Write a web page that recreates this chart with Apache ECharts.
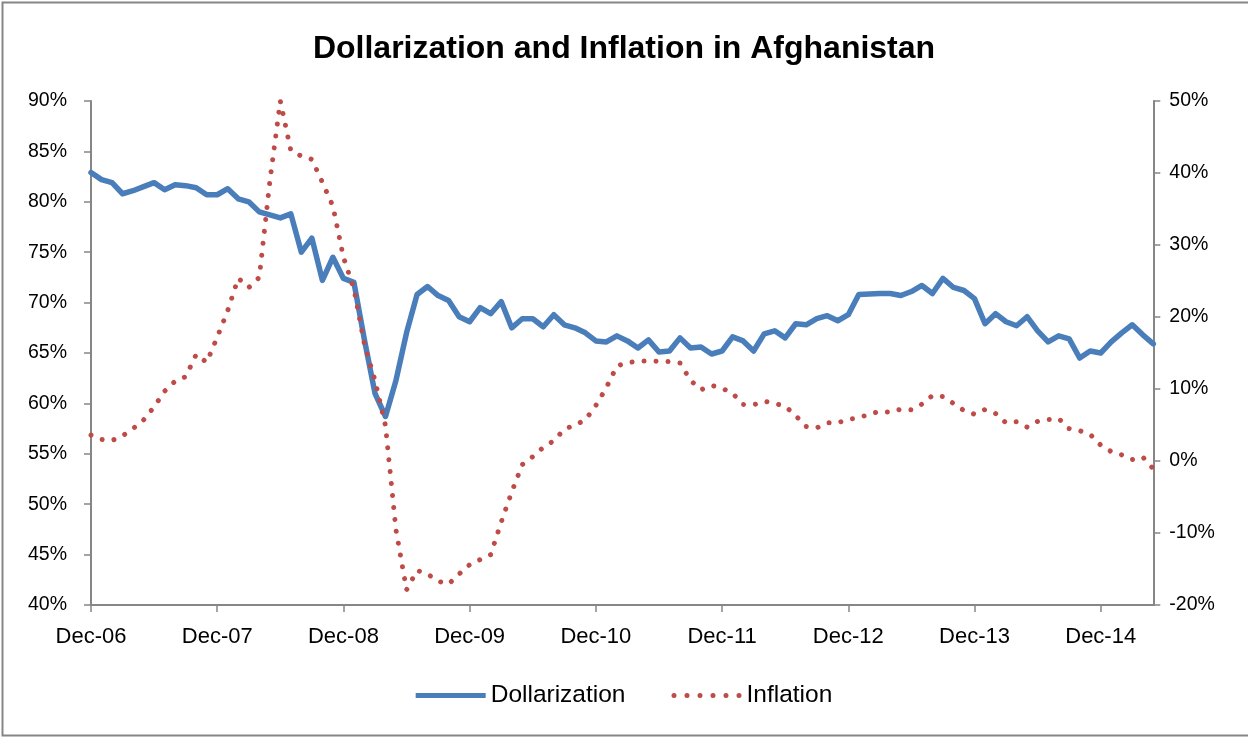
<!DOCTYPE html>
<html>
<head>
<meta charset="utf-8">
<script src="https://cdn.jsdelivr.net/npm/echarts@6/dist/echarts.min.js"></script>
<style>
html,body{margin:0;padding:0;background:#fff;}
#chart{width:1248px;height:737px;}
</style>
</head>
<body>
<div id="chart"></div>
<script>
var months = [
 'Dec-06','Jan-07','Feb-07','Mar-07','Apr-07','May-07','Jun-07','Jul-07','Aug-07','Sep-07','Oct-07','Nov-07',
 'Dec-07','Jan-08','Feb-08','Mar-08','Apr-08','May-08','Jun-08','Jul-08','Aug-08','Sep-08','Oct-08','Nov-08',
 'Dec-08','Jan-09','Feb-09','Mar-09','Apr-09','May-09','Jun-09','Jul-09','Aug-09','Sep-09','Oct-09','Nov-09',
 'Dec-09','Jan-10','Feb-10','Mar-10','Apr-10','May-10','Jun-10','Jul-10','Aug-10','Sep-10','Oct-10','Nov-10',
 'Dec-10','Jan-11','Feb-11','Mar-11','Apr-11','May-11','Jun-11','Jul-11','Aug-11','Sep-11','Oct-11','Nov-11',
 'Dec-11','Jan-12','Feb-12','Mar-12','Apr-12','May-12','Jun-12','Jul-12','Aug-12','Sep-12','Oct-12','Nov-12',
 'Dec-12','Jan-13','Feb-13','Mar-13','Apr-13','May-13','Jun-13','Jul-13','Aug-13','Sep-13','Oct-13','Nov-13',
 'Dec-13','Jan-14','Feb-14','Mar-14','Apr-14','May-14','Jun-14','Jul-14','Aug-14','Sep-14','Oct-14','Nov-14',
 'Dec-14','Jan-15','Feb-15','Mar-15','Apr-15','May-15'
];

var dollarization = [
 82.9,82.2,81.9,80.8,81.1,81.5,81.9,81.2,81.7,81.6,81.4,80.7,
 80.7,81.3,80.3,80.0,79.0,78.7,78.4,78.8,75.0,76.4,72.2,74.5,
 72.4,72.0,66.3,61.0,58.7,62.3,67.0,70.8,71.6,70.7,70.2,68.6,
 68.1,69.5,68.9,70.1,67.5,68.4,68.4,67.6,68.8,67.8,67.5,67.0,
 66.2,66.1,66.7,66.2,65.5,66.3,65.1,65.2,66.5,65.5,65.6,64.9,
 65.2,66.6,66.2,65.2,66.9,67.2,66.5,67.9,67.8,68.4,68.7,68.2,
 68.8,70.8,70.85,70.9,70.9,70.7,71.1,71.7,70.9,72.4,71.5,71.2,
 70.4,67.9,68.9,68.1,67.7,68.6,67.2,66.1,66.7,66.4,64.5,65.2,
 65.0,66.1,67.0,67.8,66.8,65.9
];

var inflation = [
 3.6,3.0,2.85,3.5,4.5,5.7,7.5,9.7,11.1,11.7,14.8,13.7,
 17.2,20.9,25.4,24.1,25.5,38.8,50.0,43.1,42.35,41.9,38.7,35.4,
 28.3,23.9,16.2,11.2,4.9,-9.6,-17.9,-15.2,-15.7,-16.7,-17.1,-15.7,
 -14.4,-13.7,-13.0,-8.5,-4.3,-0.5,0.6,1.9,2.8,4.4,5.0,5.7,
 7.7,10.2,13.2,13.65,13.85,13.9,13.85,13.8,13.6,11.2,9.9,10.5,
 10.1,9.4,7.85,7.8,8.3,8.0,7.6,6.3,4.8,4.6,5.3,5.3,
 5.8,6.0,6.5,6.9,6.75,7.2,7.1,7.9,9.1,8.95,8.0,7.0,
 6.5,7.15,6.6,5.3,5.45,4.7,5.5,5.75,5.9,4.5,4.2,3.7,
 2.2,1.3,0.85,0.2,0.55,-1.1
];

var leftTicks = {min: 40, max: 90, interval: 5};
var rightTicks = {min: -20, max: 50, interval: 10};

var axisGray = '#868686';
var blue = '#4A7EBB';
var red = '#BE4B48';
var font = 'Liberation Sans, Arial, sans-serif';

// legend icon: a row of round dots
function dotRowPath(n, r, gap) {
  var p = '';
  for (var k = 0; k < n; k++) {
    var cx = r + k * gap;
    p += 'M' + (cx - r) + ',' + r + 'a' + r + ',' + r + ' 0 1,0 ' + (2 * r) + ',0a' + r + ',' + r + ' 0 1,0 ' + (-2 * r) + ',0Z';
  }
  return 'path://' + p;
}

var chart = echarts.init(document.getElementById('chart'), null, {renderer: 'canvas'});
chart.setOption({
  backgroundColor: '#ffffff',
  animation: false,
  title: {
    text: 'Dollarization and Inflation in Afghanistan',
    left: 'center',
    top: 28,
    textStyle: {fontFamily: font, fontSize: 32, fontWeight: 'bold', color: '#000'}
  },
  legend: {
    bottom: 24,
    left: 'center',
    itemWidth: 70,
    itemHeight: 5,
    itemGap: 46,
    textStyle: {fontFamily: font, fontSize: 24.5, color: '#000'},
    data: [
      {name: 'Dollarization', icon: 'rect', itemStyle: {color: blue}},
      {name: 'Inflation', icon: dotRowPath(6, 2.5, 13), itemStyle: {color: red}}
    ]
  },
  grid: {left: 91, right: 94.7, top: 101, bottom: 132, containLabel: false},
  xAxis: {
    type: 'category',
    data: months,
    boundaryGap: false,
    axisLine: {onZero: false, lineStyle: {color: axisGray, width: 2}},
    axisTick: {show: true, interval: 11, length: 7, lineStyle: {color: axisGray, width: 1.5}},
    axisLabel: {interval: 11, margin: 21, fontFamily: font, fontSize: 22, color: '#000'},
    splitLine: {show: false}
  },
  yAxis: [
    {
      type: 'value',
      min: leftTicks.min, max: leftTicks.max, interval: leftTicks.interval,
      position: 'left',
      axisLine: {show: true, lineStyle: {color: axisGray, width: 2}},
      axisTick: {show: true, length: 7, lineStyle: {color: axisGray, width: 1.5}},
      axisLabel: {formatter: '{value}%', margin: 24, fontFamily: font, fontSize: 19.5, color: '#000'},
      splitLine: {show: false}
    },
    {
      type: 'value',
      min: rightTicks.min, max: rightTicks.max, interval: rightTicks.interval,
      position: 'right',
      axisLine: {show: true, lineStyle: {color: axisGray, width: 2}},
      axisTick: {show: true, length: 7, lineStyle: {color: axisGray, width: 1.5}},
      axisLabel: {formatter: '{value}%', margin: 16, fontFamily: font, fontSize: 19.5, color: '#000'},
      splitLine: {show: false}
    }
  ],
  series: [
    {
      name: 'Dollarization',
      type: 'line',
      yAxisIndex: 0,
      data: dollarization,
      showSymbol: false,
      symbol: 'none',
      clip: true,
      lineStyle: {color: blue, width: 5.5, join: 'round', cap: 'round'},
      itemStyle: {color: blue},
      z: 3
    },
    {
      name: 'Inflation',
      type: 'line',
      yAxisIndex: 1,
      data: inflation,
      showSymbol: false,
      symbol: 'none',
      clip: true,
      lineStyle: {color: red, width: 5, type: [0.01, 12], cap: 'round', join: 'round'},
      itemStyle: {color: red},
      z: 4
    }
  ],
  graphic: [{
    type: 'rect',
    shape: {x: 2.5, y: 2.5, width: 1250, height: 733},
    style: {fill: 'none', stroke: axisGray, lineWidth: 2},
    silent: true
  }]
});
</script>
</body>
</html>
